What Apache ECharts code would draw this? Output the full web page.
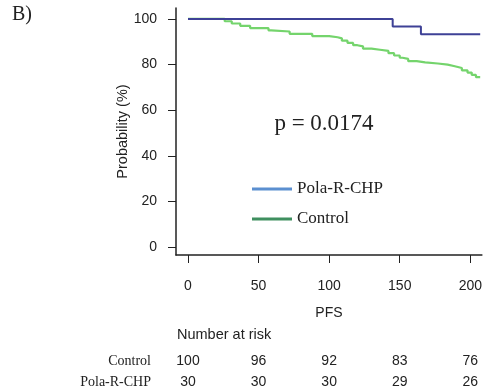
<!DOCTYPE html>
<html><head><meta charset="utf-8">
<script src="https://cdn.jsdelivr.net/npm/echarts@6/dist/echarts.min.js"></script>
<style>html,body{margin:0;padding:0;background:#fff}#c{width:485px;height:389px}</style>
</head><body><div id="c"></div>
<script>
var xTicks = [0, 50, 100, 150, 200];
var yTicks = [0, 20, 40, 60, 80, 100];
var polaCurve = [[0,100],[145,96.67],[165,93.33],[207,93.33]];
var controlCurve = [[0,100],[26,99],[31,98],[37,97],[44,96],[57,95],[59,94.5],[72,93.5],[88,92.5],[100,92],[106,91.5],[109,90.5],[113,89.5],[117,88.5],[120,88],[124,87],[130,86.5],[136,86],[142,85],[146,84],[150,83],[152,82.5],[156,81.5],[162,81],[168,80.5],[177,80],[184,79.3],[189,78.5],[194,77.5],[198,76.5],[201,75.5],[204,74.5],[207,74.5]];
var riskControl = [100, 96, 92, 83, 76];
var riskPola = [30, 30, 30, 29, 26];
var seriesNames = ['Pola-R-CHP', 'Control'];
var pText = 'p = 0.0174';

var sans = 'Liberation Sans';
var serif = 'Liberation Serif';
var xMin = -8.5, xMax = 208.2;

function riskAxis(values, name, offset) {
  return {
    type: 'value', min: xMin, max: xMax, position: 'bottom', offset: offset,
    axisLine: {show: false, onZero: false}, axisTick: {show: false}, splitLine: {show: false},
    axisLabel: {customValues: xTicks, margin: 0, verticalAlign: 'middle',
      fontFamily: sans, fontSize: 14, color: '#222',
      formatter: function (v) { var i = xTicks.indexOf(v); return i >= 0 ? String(values[i]) : ''; }},
    name: name, nameLocation: 'start', nameGap: 25, nameMoveOverlap: false,
    nameTextStyle: {fontFamily: serif, fontSize: 14, color: '#222', verticalAlign: 'middle', align: 'right'}
  };
}

var chart = echarts.init(document.getElementById('c'));
chart.setOption({
  animation: false,
  grid: {left: 176, right: 3, top: 8, bottom: 132},
  xAxis: [{
    type: 'value', min: xMin, max: xMax,
    axisLine: {show: true, onZero: false, lineStyle: {color: '#222', width: 1.5}},
    axisTick: {show: true, customValues: xTicks, length: 8, lineStyle: {color: '#222'}},
    axisLabel: {customValues: xTicks, margin: 24, fontFamily: sans, fontSize: 14, color: '#222'},
    splitLine: {show: false},
    name: 'PFS', nameLocation: 'middle', nameGap: 51, nameMoveOverlap: false,
    nameTextStyle: {fontFamily: sans, fontSize: 14, color: '#222'}
  },
  riskAxis(riskControl, 'Control', 106),
  riskAxis(riskPola, 'Pola-R-CHP', 127)],
  yAxis: {
    type: 'value', min: -3.4, max: 104.8,
    axisLine: {show: true, onZero: false, lineStyle: {color: '#222', width: 1.5}},
    axisTick: {show: true, customValues: yTicks, length: 8, lineStyle: {color: '#222'}},
    axisLabel: {customValues: yTicks, margin: 19, fontFamily: sans, fontSize: 14, color: '#222'},
    splitLine: {show: false},
    name: 'Probability (%)', nameLocation: 'middle', nameGap: 46, nameMoveOverlap: false,
    nameTextStyle: {fontFamily: sans, fontSize: 14.5, color: '#222'}
  },
  legend: {
    orient: 'vertical', left: 247, top: 175, itemWidth: 40, itemHeight: 3, itemGap: 12,
    icon: 'rect',
    textStyle: {fontFamily: serif, fontSize: 17, color: '#222', lineHeight: 18},
    data: [
      {name: seriesNames[0], itemStyle: {color: '#5b8fd0'}},
      {name: seriesNames[1], itemStyle: {color: '#3f8f5f'}}
    ]
  },
  series: [
    {name: seriesNames[0], type: 'line', step: 'end', data: polaCurve, symbol: 'none', z: 3,
     lineStyle: {color: '#3e4196', width: 2}, itemStyle: {color: '#3e4196'}},
    {name: seriesNames[1], type: 'line', step: 'end', data: controlCurve, symbol: 'none', z: 2,
     lineStyle: {color: '#74d46c', width: 2.2}, itemStyle: {color: '#74d46c'}}
  ],
  graphic: [
    {type: 'text', left: 12, top: 5, style: {text: 'B)', fontFamily: serif, fontSize: 20, fill: '#222'}},
    {type: 'text', x: 324, y: 124, style: {text: pText, fontFamily: serif, fontSize: 23, fill: '#222', align: 'center', verticalAlign: 'middle'}},
    {type: 'text', x: 177, y: 335, style: {text: 'Number at risk', fontFamily: sans, fontSize: 14.5, fill: '#222', align: 'left', verticalAlign: 'middle'}}
  ]
});
</script></body></html>
